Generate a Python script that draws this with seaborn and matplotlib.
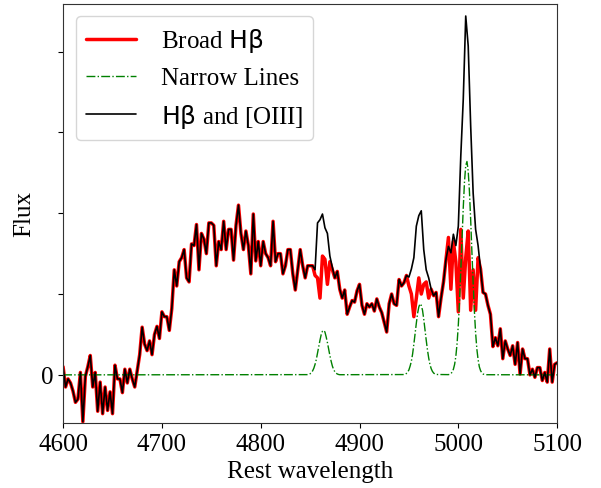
import numpy as np
import pandas as pd
import matplotlib
matplotlib.use('Agg')
import matplotlib.pyplot as plt
import seaborn as sns

# --- wavelength grids ---
WAVE_STEP = 2.5
wave = np.arange(4600, 5100 + WAVE_STEP / 2, WAVE_STEP)

total_flux = [
    0.10, -0.15, -0.05, -0.10, -0.20, -0.34, -0.30, 0.03, -0.58, -0.02,
    0.10, 0.24, -0.15, 0.03, -0.45, -0.09, -0.48, -0.15, -0.44, -0.21,
    -0.48, 0.12, -0.05, -0.05, -0.22, 0.07, -0.10, 0.07, -0.05, -0.15,
    0.05, 0.25, 0.59, 0.38, 0.30, 0.42, 0.25, 0.50, 0.60, 0.45,
    0.78, 0.72, 0.72, 0.55, 0.82, 1.30, 1.10, 1.40, 1.45, 1.55,
    1.20, 1.15, 1.62, 1.60, 1.86, 1.30, 1.75, 1.68, 1.50, 1.88,
    1.88, 1.85, 1.35, 1.65, 1.55, 1.90, 1.55, 1.80, 1.80, 1.42,
    1.85, 2.10, 1.75, 1.55, 1.78, 1.60, 1.25, 1.99, 1.41, 1.65,
    1.35, 1.65, 1.50, 1.45, 1.35, 1.90, 1.40, 1.50, 1.50, 1.25,
    1.35, 1.55, 1.55, 1.25, 1.05, 1.30, 1.55, 1.35, 1.20, 1.35,
    1.35, 1.35, 1.30, 1.88, 1.92, 1.99, 1.82, 1.75, 1.47, 1.33,
    1.20, 1.28, 1.06, 0.95, 1.05, 0.75, 0.84, 0.92, 0.90, 1.04,
    1.12, 0.86, 0.75, 0.88, 0.84, 0.88, 0.79, 0.94, 0.84, 0.77,
    0.65, 0.53, 0.88, 1.00, 0.88, 0.86, 1.18, 1.10, 1.14, 1.23,
    1.21, 1.31, 1.45, 1.84, 1.97, 2.03, 1.55, 1.30, 1.20, 1.06,
    0.98, 1.02, 0.72, 0.95, 1.15, 1.43, 1.59, 1.51, 1.74, 1.60,
    1.84, 2.71, 3.41, 4.44, 4.07, 3.08, 2.25, 1.80, 1.60, 1.31,
    1.02, 1.00, 0.86, 0.75, 0.35, 0.46, 0.36, 0.57, 0.20, 0.42,
    0.32, 0.24, 0.36, 0.13, 0.40, 0.01, 0.32, 0.20, 0.20, 0.00,
    0.07, -0.03, 0.09, 0.09, -0.07, 0.03, -0.09, 0.32, -0.09, 0.13,
    0.15,
]

# --- broad Hb component ---
broad_flux = [
    0.10, -0.15, -0.05, -0.10, -0.20, -0.34, -0.30, 0.03, -0.58, -0.02,
    0.10, 0.24, -0.15, 0.03, -0.45, -0.09, -0.48, -0.15, -0.44, -0.21,
    -0.48, 0.12, -0.05, -0.05, -0.22, 0.07, -0.10, 0.07, -0.05, -0.15,
    0.05, 0.25, 0.59, 0.38, 0.30, 0.42, 0.25, 0.50, 0.60, 0.45,
    0.78, 0.72, 0.72, 0.55, 0.82, 1.30, 1.10, 1.40, 1.45, 1.55,
    1.20, 1.15, 1.62, 1.60, 1.86, 1.30, 1.75, 1.68, 1.50, 1.88,
    1.88, 1.85, 1.35, 1.65, 1.55, 1.90, 1.55, 1.80, 1.80, 1.42,
    1.85, 2.10, 1.75, 1.55, 1.78, 1.60, 1.25, 1.99, 1.41, 1.65,
    1.35, 1.65, 1.50, 1.45, 1.35, 1.90, 1.40, 1.50, 1.50, 1.25,
    1.35, 1.55, 1.55, 1.25, 1.05, 1.30, 1.55, 1.35, 1.20, 1.35,
    1.35, 1.35, 1.23, 1.20, 0.95, 1.47, 1.43, 1.12, 1.40, 1.30,
    1.20, 1.28, 1.06, 0.95, 1.05, 0.75, 0.84, 0.92, 0.90, 1.04,
    1.12, 0.86, 0.75, 0.88, 0.84, 0.88, 0.79, 0.94, 0.84, 0.77,
    0.65, 0.53, 0.88, 1.00, 0.88, 0.86, 1.18, 1.10, 1.14, 1.23,
    1.10, 1.00, 0.72, 0.95, 1.20, 1.00, 1.12, 1.15, 0.95, 1.06,
    0.98, 1.02, 0.72, 0.95, 1.15, 1.43, 1.70, 1.06, 1.65, 1.40,
    0.78, 1.80, 0.95, 1.45, 1.78, 0.80, 1.30, 0.80, 1.45, 1.31,
    1.02, 1.00, 0.86, 0.75, 0.35, 0.46, 0.36, 0.57, 0.20, 0.42,
    0.32, 0.24, 0.36, 0.13, 0.40, 0.01, 0.32, 0.20, 0.20, 0.00,
    0.07, -0.03, 0.09, 0.09, -0.07, 0.03, -0.09, 0.32, -0.09, 0.13,
    0.15,
]

# --- narrow lines (only where they rise above zero) ---
hb_wave = np.arange(4847.5, 4880.1, 1.25)
hb_narrow = [0.003, 0.007, 0.014, 0.027, 0.049, 0.082, 0.13, 0.19, 0.27,
             0.35, 0.43, 0.50, 0.54, 0.55, 0.53, 0.47, 0.40, 0.32, 0.24,
             0.17, 0.11, 0.067, 0.039, 0.021, 0.011, 0.005, 0.002]
o3a_wave = np.arange(4945, 4977.6, 1.25)
o3a_narrow = [0.004, 0.008, 0.018, 0.034, 0.062, 0.11, 0.17, 0.26, 0.38,
              0.51, 0.64, 0.76, 0.84, 0.88, 0.86, 0.80, 0.69, 0.56, 0.43,
              0.31, 0.21, 0.13, 0.078, 0.044, 0.023, 0.011, 0.005]
o3b_wave = np.arange(4990, 5027.6, 1.25)
o3b_narrow = [0.003, 0.007, 0.016, 0.034, 0.069, 0.13, 0.23, 0.39, 0.62,
              0.92, 1.29, 1.68, 2.07, 2.39, 2.59, 2.64, 2.52, 2.27, 1.92,
              1.52, 1.14, 0.79, 0.52, 0.32, 0.19, 0.10, 0.053, 0.025,
              0.011, 0.005, 0.002]

df_spec = pd.DataFrame({'wave': wave, 'total': total_flux, 'broad': broad_flux})
df_narrow = pd.DataFrame({
    'wave': np.concatenate([[4600], hb_wave, o3a_wave, o3b_wave, [5100]]),
    'flux': np.concatenate([[0.0], hb_narrow, o3a_narrow, o3b_narrow, [0.0]]),
})

sns.set_style('ticks')
plt.rcParams['font.family'] = ['Liberation Serif', 'DejaVu Sans']
plt.rcParams['mathtext.fontset'] = 'dejavusans'
plt.rcParams['text.color'] = 'black'
plt.rcParams['axes.labelcolor'] = 'black'

fig = plt.figure(figsize=(6.01, 4.89), dpi=100)
ax = fig.add_axes([0.105, 0.133, 0.822, 0.857])

sns.lineplot(data=df_spec, x='wave', y='broad', color='red', linewidth=2.5,
             sort=False, estimator=None, label=r'Broad $\mathrm{H\beta}$', ax=ax)
sns.lineplot(data=df_narrow, x='wave', y='flux', color='green', linewidth=1,
             linestyle='-.', sort=False, estimator=None, label='Narrow Lines', ax=ax)
sns.lineplot(data=df_spec, x='wave', y='total', color='black', linewidth=1.2,
             sort=False, estimator=None, label=r'$\mathrm{H\beta}$ and [OIII]', ax=ax)

ax.set_xlim(4600, 5100)
ax.set_ylim(-0.595, 4.59)
ax.set_xticks([4600, 4700, 4800, 4900, 5000, 5100])
ax.set_yticks([0, 1, 2, 3, 4])
ax.set_yticklabels(['0', '', '', '', ''])
ax.tick_params(labelsize=18, colors='black')
ax.set_xlabel('Rest wavelength', fontsize=18, color='black')
ax.set_ylabel('Flux', fontsize=18, color='black')
for s in ax.spines.values():
    s.set_color('0.2')

leg = ax.legend(loc='upper left', fontsize=18, handletextpad=1.0)
for t in leg.get_texts():
    t.set_color('black')

fig.savefig('out.png', dpi=100)
